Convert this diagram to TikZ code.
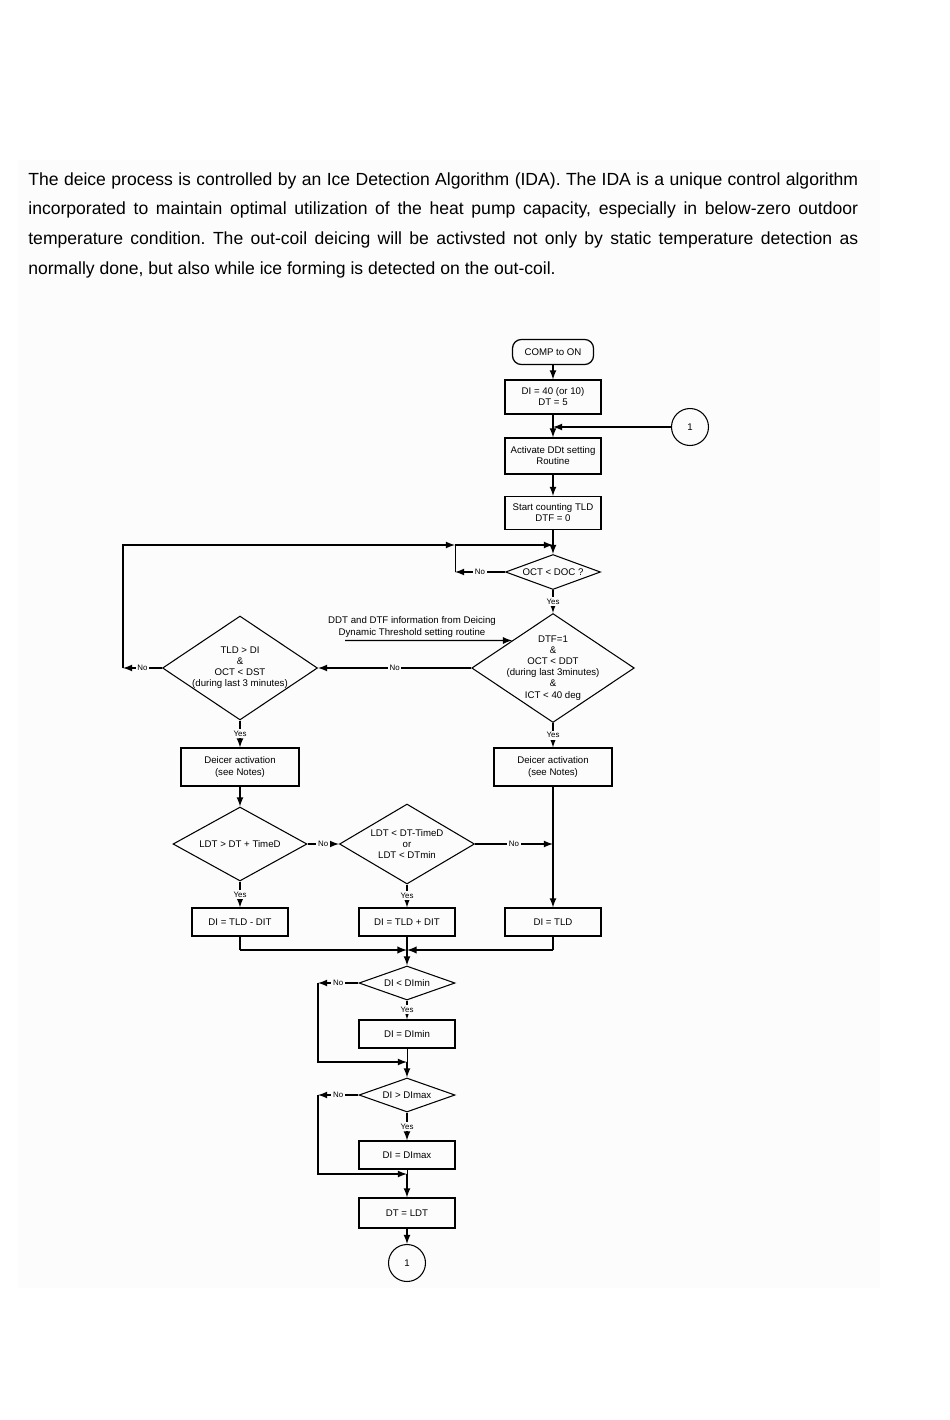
\documentclass[tikz,border=0pt]{standalone}
\usepackage{fontspec}
\setmainfont{Liberation Sans}
\usetikzlibrary{arrows,calc,shapes.geometric}
\definecolor{PageClr}{RGB}{252,252,252}
\newcommand\flowfont{\fontsize{5.5}{6.3}\selectfont}
\frenchspacing

\begin{document}
\begin{tikzpicture}[x=0.02cm,y=-0.02cm,
  every node/.style={font=\flowfont},
  box/.style={draw,line width=0.7pt,minimum width=1.92cm,minimum height=0.56cm,align=center,inner sep=1pt},
  cond/.style={draw,diamond,aspect=1.5,line width=0.6pt,align=center,inner sep=-3pt},
  term/.style={draw,rounded corners=5pt,line width=0.7pt,minimum width=1.62cm,minimum height=0.5cm},
  conn/.style={draw,circle,line width=0.6pt,minimum size=0.74cm,inner sep=0pt},
  lbl/.style={fill=PageClr,inner sep=1pt,font=\fontsize{4.5}{5}\selectfont},
  flow/.style={-latex,line width=0.8pt}]
\useasboundingbox (0,0) rectangle (950,1420);
\fill[PageClr] (18,160) rectangle (880,1288);

\node[anchor=north west,inner sep=0pt,text width=16.6cm,align=justify,
  font=\fontsize{10}{16.9}\selectfont] (intro) at (28,172)
  {The deice process is controlled by an Ice Detection Algorithm (IDA). The IDA is a unique control algorithm\linebreak
   incorporated to maintain optimal utilization of the heat pump capacity, especially in below-zero outdoor\linebreak
   temperature condition. The out-coil deicing will be activsted not only by static temperature detection as\linebreak
   normally done, but also while ice forming is detected on the out-coil.};

\node[term] (comp) at (553,352) {COMP to ON};
\node[box,minimum height=0.68cm] (dinit) at (553,397) {DI = 40 (or 10)\\DT = 5};
\node[conn] (c1) at (690,427) {1};
\node[box,minimum height=0.72cm] (act) at (553,456) {Activate DDt setting\\Routine};
\node[box,minimum height=0.66cm] (count) at (553,513) {Start counting TLD\\DTF = 0};
\node[cond,minimum width=1.9cm,minimum height=0.7cm] (oct) at (553,572) {OCT < DOC ?};
\node[cond,minimum width=3.18cm,minimum height=2.18cm] (dtf) at (553,668)
  {DTF=1\\\&\\OCT < DDT\\(during last 3minutes)\\\&\\ICT < 40 deg};
\node[cond,minimum width=3.1cm,minimum height=2.08cm] (tld) at (240,668)
  {TLD > DI\\\&\\OCT < DST\\(during last 3 minutes)};
\node[align=center] (info) at (412,627) {DDT and DTF information from Deicing\\Dynamic Threshold setting routine};
\node[box,minimum width=2.36cm,minimum height=0.76cm] (dei1) at (240,767) {Deicer activation\\(see Notes)};
\node[box,minimum width=2.36cm,minimum height=0.76cm] (dei2) at (553,767) {Deicer activation\\(see Notes)};
\node[cond,minimum width=2.68cm,minimum height=1.48cm] (ldt1) at (240,844) {LDT > DT + TimeD};
\node[cond,minimum width=2.7cm,minimum height=1.6cm] (ldt2) at (407,844) {LDT < DT-TimeD\\or\\LDT < DTmin};
\node[box] (dit1) at (240,922) {DI = TLD - DIT};
\node[box] (dit2) at (407,922) {DI = TLD + DIT};
\node[box] (dit3) at (553,922) {DI = TLD};
\node[cond,minimum width=1.92cm,minimum height=0.68cm] (dmin) at (407,983) {DI < DImin};
\node[box] (setmin) at (407,1034) {DI = DImin};
\node[cond,minimum width=1.92cm,minimum height=0.68cm] (dmax) at (407,1095) {DI > DImax};
\node[box] (setmax) at (407,1155) {DI = DImax};
\node[box,minimum height=0.6cm] (dtl) at (407,1213) {DT = LDT};
\node[conn] (c2) at (407,1263) {1};

\coordinate (j0) at (553,545);
\coordinate (k1) at (455,572);
\coordinate (k2) at (455,545);
\coordinate (k3) at (123,668);
\coordinate (k4) at (123,545);
\coordinate (j3) at (553,427);
\coordinate (src) at (345,640.5);
\coordinate (m1) at (553,844);
\coordinate (mL) at (240,950);
\coordinate (mC) at (407,950);
\coordinate (mR) at (553,950);
\coordinate (n1) at (318,983);
\coordinate (j1) at (407,1062);
\coordinate (n2) at (318,1095);
\coordinate (j2) at (407,1174);

\draw[flow] (comp) -- (dinit);
\draw[flow] (dinit) -- (act);
\draw[flow] (c1) -- (j3);
\draw[flow] (act) -- (count);
\draw[flow] (count) -- (oct);
\draw[flow] (oct.west) -- node[lbl]{No} (k1);
\draw (k1) -- (k2);
\draw[flow] (k3) -- (k4) -- (k2);
\draw[flow] (k2) -- (j0);
\draw[flow] (oct) -- node[lbl]{Yes} (dtf);
\draw[flow] (src) -- (dtf.north west);
\draw[flow] (dtf.west) -- node[lbl]{No} (tld.east);
\draw[flow] (tld.west) -- node[lbl]{No} (k3);
\draw[flow] (tld) -- node[lbl]{Yes} (dei1);
\draw[flow] (dtf) -- node[lbl]{Yes} (dei2);
\draw[flow] (dei1) -- (ldt1);
\draw[flow] (ldt1.east) -- node[lbl]{No} (ldt2.west);
\draw[flow] (ldt2.east) -- node[lbl]{No} (m1);
\draw[flow] (dei2) -- (dit3);
\draw[flow] (ldt1) -- node[lbl]{Yes} (dit1);
\draw[flow] (ldt2) -- node[lbl]{Yes} (dit2);
\draw[line width=0.9pt] (dit1) -- (mL);
\draw[flow,line width=0.9pt] (mL) -- (mC);
\draw[line width=0.9pt] (dit3) -- (mR);
\draw[flow,line width=0.9pt] (mR) -- (mC);
\draw[line width=0.9pt] (dit2) -- (mC);
\draw[flow] (mC) -- (dmin);
\draw[flow] (dmin.west) -- node[lbl]{No} (n1);
\draw[flow] (n1) |- (j1);
\draw[flow] (dmin) -- node[lbl]{Yes} (setmin);
\draw (setmin) -- (j1);
\draw[flow] (j1) -- (dmax);
\draw[flow] (dmax.west) -- node[lbl]{No} (n2);
\draw[flow] (n2) |- (j2);
\draw[flow] (dmax) -- node[lbl]{Yes} (setmax);
\draw (setmax) -- (j2);
\draw[flow] (j2) -- (dtl);
\draw[flow] (dtl) -- (c2);
\end{tikzpicture}
\end{document}
